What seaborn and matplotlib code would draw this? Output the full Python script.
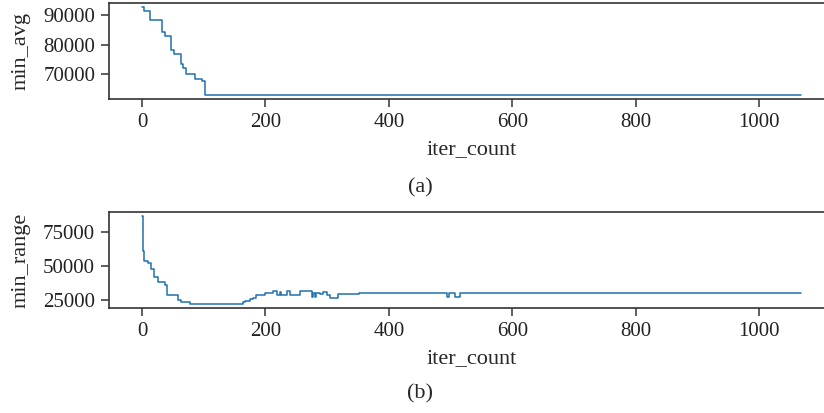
import matplotlib
matplotlib.use("Agg")
import matplotlib.pyplot as plt
import seaborn as sns
import pandas as pd

# min_avg: change points (iteration, value), drawn as a step curve
avg_iter = [0, 4, 13, 32, 37, 47, 52, 63, 66, 71, 86, 97, 102, 1068]
avg_vals = [92700, 91400, 88400, 84300, 83000, 78200, 76900, 73500,
            72100, 70200, 68300, 67600, 63000, 63000]

# min_range: change points (iteration, value)
range_iter = [0, 1, 4, 9, 14, 19, 26, 37, 41, 59, 64, 77, 162, 164, 167, 175,
              180, 185, 200, 213, 218, 224, 226, 235, 240, 256, 275, 277, 280,
              282, 288, 294, 300, 305, 318, 351, 494, 497, 507, 516, 1068]
range_vals = [86500, 61000, 53800, 52100, 47700, 41700, 38500, 36100, 28400,
              24800, 23800, 22400, 22400, 23500, 24600, 25500, 26500, 29000,
              30500, 31500, 28400, 31000, 28400, 31500, 28400, 31500, 27500,
              30000, 27000, 30000, 29500, 30700, 29000, 26800, 29200, 30400,
              27400, 30400, 27400, 30400, 30400]

x_ticks = [0, 200, 400, 600, 800, 1000]
avg_ticks = [70000, 80000, 90000]
range_ticks = [25000, 50000, 75000]

sns.set_style("ticks")
plt.rcParams["font.family"] = ["Liberation Serif", "DejaVu Serif"]
plt.rcParams["font.size"] = 15

df_avg = pd.DataFrame({"iter_count": avg_iter, "min_avg": avg_vals})
df_range = pd.DataFrame({"iter_count": range_iter, "min_range": range_vals})

fig = plt.figure(figsize=(8.24, 4.13), dpi=100)
ax1 = fig.add_axes([0.1323, 0.760, 0.880, 0.2325])
ax2 = fig.add_axes([0.1323, 0.2542, 0.880, 0.2325])

color = "#1f72ad"
sns.lineplot(data=df_avg, x="iter_count", y="min_avg", ax=ax1,
             drawstyle="steps-post", color=color, linewidth=1.1)
sns.lineplot(data=df_range, x="iter_count", y="min_range", ax=ax2,
             drawstyle="steps-post", color=color, linewidth=1.1)

for ax, yt in [(ax1, avg_ticks), (ax2, range_ticks)]:
    ax.set_xticks(x_ticks)
    ax.set_yticks(yt)
    ax.tick_params(axis="both", labelsize=15, length=6, width=1.1,
                   color="#333333", labelcolor="#222222", pad=4)
    for s in ax.spines.values():
        s.set_linewidth(1.2)
        s.set_color("#333333")
    ax.set_xlabel("iter_count", fontsize=16, labelpad=6)

ax1.set_ylabel("min_avg", fontsize=16, labelpad=9)
ax2.set_ylabel("min_range", fontsize=16, labelpad=9)

fig.text(420 / 824, 1 - 188 / 413, "(a)", ha="center", va="center", fontsize=16)
fig.text(420 / 824, 1 - 394 / 413, "(b)", ha="center", va="center", fontsize=16)

fig.savefig("out.png", dpi=100)
plt.close(fig)
